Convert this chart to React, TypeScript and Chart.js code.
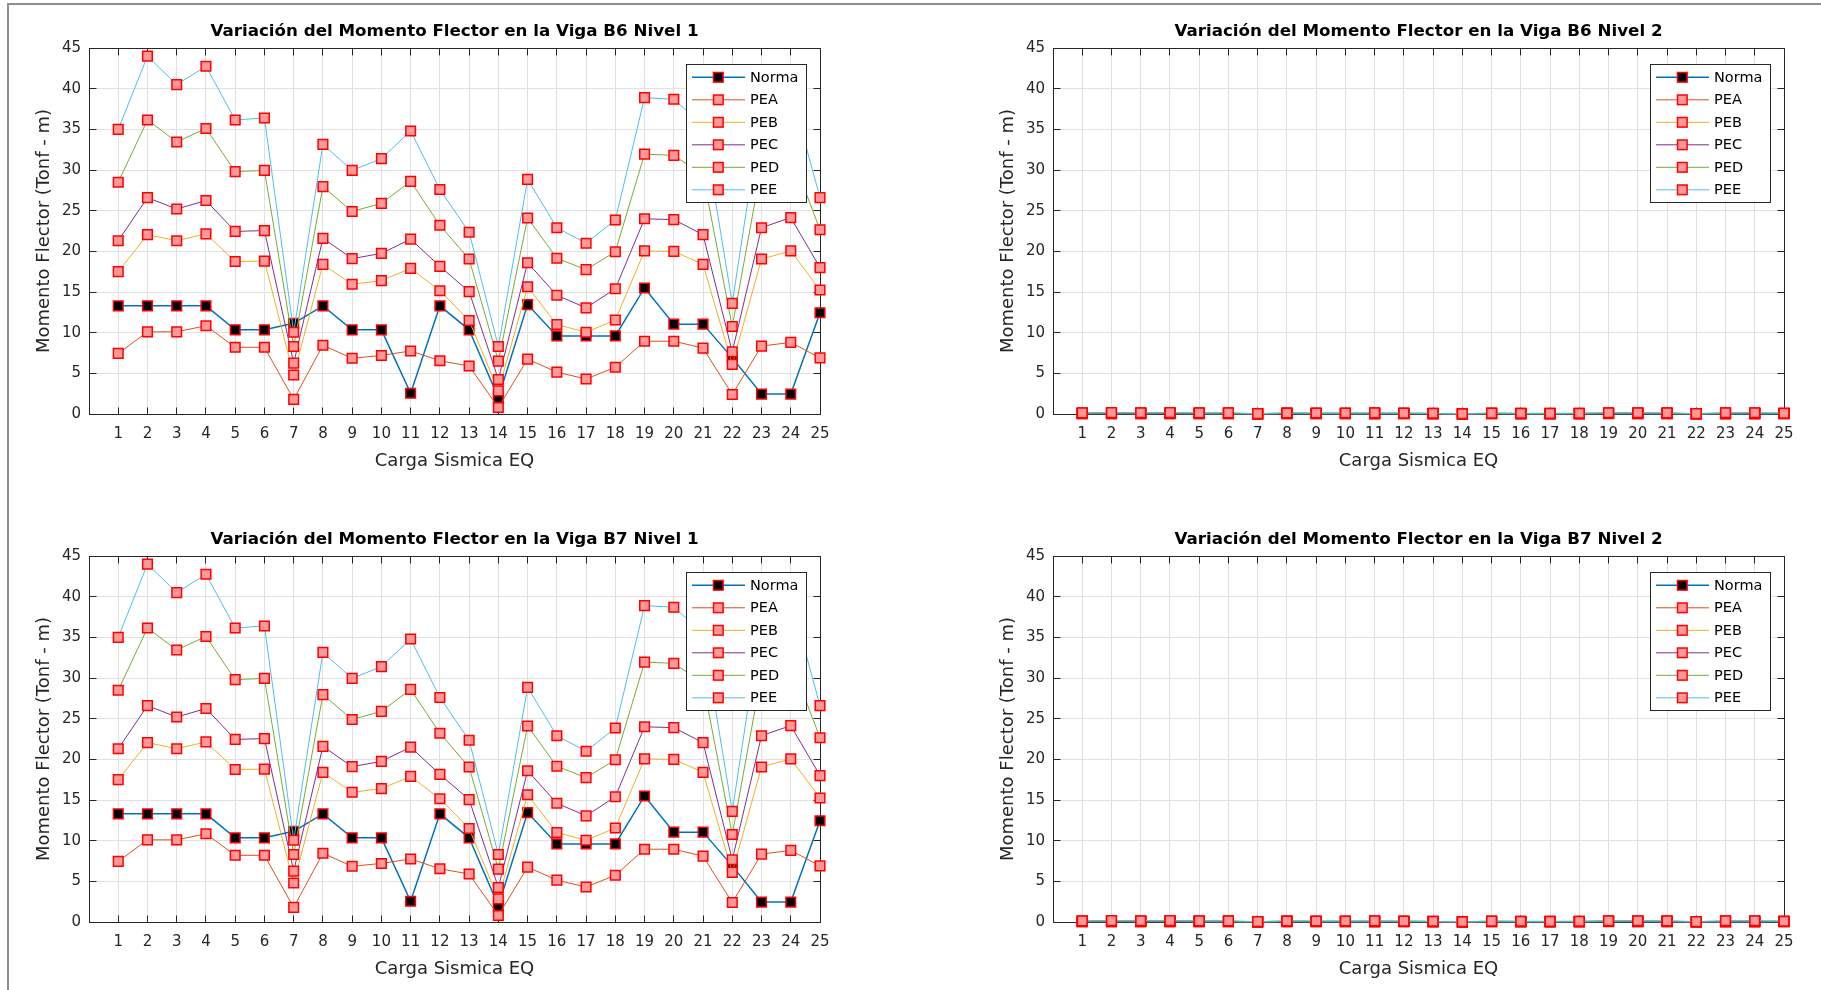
import React, { useEffect, useRef } from 'react';
import { Chart, registerables } from 'chart.js';

Chart.register(...registerables);

// ---------- data ----------
const categories = [1, 2, 3, 4, 5, 6, 7, 8, 9, 10, 11, 12, 13, 14, 15, 16, 17, 18, 19, 20, 21, 22, 23, 24, 25];
const yTicks = [0, 5, 10, 15, 20, 25, 30, 35, 40, 45];
const seriesNames = ['Norma', 'PEA', 'PEB', 'PEC', 'PED', 'PEE'];
const lineColors = ['#0072BD', '#D95319', '#EDB120', '#7E2F8E', '#77AC30', '#4DBEEE'];

// Viga B6 / B7 - Nivel 1
const n1Norma = [13.3, 13.3, 13.3, 13.3, 10.35, 10.35, 11.15, 13.3, 10.35, 10.35, 2.55, 13.3, 10.35, 2.0, 13.45, 9.6, 9.6, 9.6, 15.5, 11.05, 11.05, 6.9, 2.45, 2.45, 12.45];
const n1Pea = [7.45, 10.1, 10.1, 10.85, 8.2, 8.2, 1.8, 8.45, 6.85, 7.2, 7.75, 6.55, 5.9, 0.8, 6.75, 5.15, 4.3, 5.75, 8.95, 8.95, 8.1, 2.4, 8.35, 8.8, 6.9];
const n1Peb = [17.5, 22.05, 21.3, 22.15, 18.75, 18.8, 4.8, 18.4, 15.95, 16.4, 17.9, 15.15, 11.5, 2.85, 15.65, 11.0, 10.05, 11.55, 20.05, 20.0, 18.4, 6.1, 19.05, 20.05, 15.25];
const n1Pec = [21.3, 26.6, 25.2, 26.25, 22.45, 22.55, 6.25, 21.6, 19.1, 19.75, 21.5, 18.15, 15.05, 4.25, 18.6, 14.6, 13.05, 15.4, 24.0, 23.9, 22.05, 7.65, 22.9, 24.15, 18.0];
const n1Ped = [28.5, 36.15, 33.45, 35.1, 29.8, 29.95, 8.3, 27.95, 24.9, 25.9, 28.6, 23.2, 19.05, 6.5, 24.1, 19.15, 17.75, 19.95, 31.95, 31.8, 29.4, 10.75, 30.5, 32.1, 22.65];
const n1Pee = [35.0, 44.0, 40.5, 42.75, 36.15, 36.4, 10.05, 33.15, 29.95, 31.4, 34.8, 27.6, 22.35, 8.3, 28.85, 22.9, 21.0, 23.85, 38.9, 38.7, 35.5, 13.6, 37.3, 39.8, 26.6];

// Viga B6 / B7 - Nivel 2 (all close to zero)
const n2Norma = [0.05, 0.05, 0.05, 0.05, 0.04, 0.04, 0.04, 0.05, 0.04, 0.04, 0.01, 0.05, 0.04, 0.01, 0.05, 0.04, 0.04, 0.04, 0.06, 0.04, 0.04, 0.03, 0.01, 0.01, 0.05];
const n2Pea = [0.03, 0.04, 0.04, 0.04, 0.03, 0.03, 0.01, 0.03, 0.03, 0.03, 0.03, 0.03, 0.02, 0.0, 0.03, 0.02, 0.02, 0.02, 0.04, 0.04, 0.03, 0.01, 0.03, 0.04, 0.03];
const n2Peb = [0.07, 0.09, 0.08, 0.09, 0.07, 0.07, 0.02, 0.07, 0.06, 0.06, 0.07, 0.06, 0.05, 0.01, 0.06, 0.04, 0.04, 0.05, 0.08, 0.08, 0.07, 0.02, 0.08, 0.08, 0.06];
const n2Pec = [0.08, 0.1, 0.1, 0.1, 0.09, 0.09, 0.02, 0.08, 0.07, 0.08, 0.08, 0.07, 0.06, 0.02, 0.07, 0.06, 0.05, 0.06, 0.09, 0.09, 0.09, 0.03, 0.09, 0.09, 0.07];
const n2Ped = [0.11, 0.14, 0.13, 0.14, 0.12, 0.12, 0.03, 0.11, 0.1, 0.1, 0.11, 0.09, 0.07, 0.03, 0.09, 0.07, 0.07, 0.08, 0.12, 0.12, 0.11, 0.04, 0.12, 0.12, 0.09];
const n2Pee = [0.14, 0.17, 0.16, 0.17, 0.14, 0.14, 0.04, 0.13, 0.12, 0.12, 0.14, 0.11, 0.09, 0.03, 0.11, 0.09, 0.08, 0.09, 0.15, 0.15, 0.14, 0.05, 0.15, 0.16, 0.1];

const nivel1 = [n1Norma, n1Pea, n1Peb, n1Pec, n1Ped, n1Pee];
const nivel2 = [n2Norma, n2Pea, n2Peb, n2Pec, n2Ped, n2Pee];

const FONT = "'DejaVu Sans', sans-serif";
const AXIS_COLOR = '#262626';

const alignPx = (p: number) => Math.round(p - 0.5) + 0.5;

// Axes title centred over the plot box (MATLAB style)
const axesTitlePlugin = {
  id: 'axesTitle',
  afterDraw(chart: any, _args: any, opts: any) {
    const { ctx, chartArea: a } = chart;
    ctx.save();
    ctx.fillStyle = '#000000';
    ctx.font = `bold 16.7px ${FONT}`;
    ctx.textAlign = 'center';
    ctx.textBaseline = 'middle';
    ctx.fillText(opts.text, (a.left + a.right) / 2, a.top - 16.5);
    ctx.restore();
  },
};

// Box on top/right + inward tick marks (MATLAB style)
const matlabAxesPlugin = {
  id: 'matlabAxes',
  beforeDatasetsDraw(chart: any) {
    const { ctx, chartArea: a, scales } = chart;
    const x = scales.x;
    const y = scales.y;
    const L = alignPx(a.left), R = alignPx(a.right), T = alignPx(a.top), B = alignPx(a.bottom);
    const tl = 7;
    ctx.save();
    ctx.strokeStyle = AXIS_COLOR;
    ctx.lineWidth = 1;
    ctx.beginPath();
    ctx.moveTo(L, T); ctx.lineTo(R, T); ctx.lineTo(R, B);
    for (const v of categories) {
      const px = alignPx(x.getPixelForValue(v));
      ctx.moveTo(px, B); ctx.lineTo(px, B - tl);
      ctx.moveTo(px, T); ctx.lineTo(px, T + tl);
    }
    for (const v of yTicks) {
      const py = alignPx(y.getPixelForValue(v));
      ctx.moveTo(L, py); ctx.lineTo(L + tl, py);
      ctx.moveTo(R, py); ctx.lineTo(R - tl, py);
    }
    ctx.stroke();
    ctx.restore();
  },
};

// MATLAB-like legend box in the north-east corner
const matlabLegendPlugin = {
  id: 'matlabLegend',
  afterDatasetsDraw(chart: any) {
    const { ctx, chartArea: a } = chart;
    const w = 120, h = 138;
    const right = a.right - 14;
    const left = right - w;
    const top = a.top + 16;
    ctx.save();
    ctx.fillStyle = '#ffffff';
    ctx.fillRect(left, top, w, h);
    ctx.strokeStyle = AXIS_COLOR;
    ctx.lineWidth = 1;
    ctx.strokeRect(alignPx(left), alignPx(top), w, h);
    chart.data.datasets.forEach((ds: any, i: number) => {
      const cy = top + 13.3 + i * 22.5;
      ctx.strokeStyle = ds.borderColor;
      ctx.lineWidth = ds.borderWidth;
      ctx.beginPath();
      ctx.moveTo(left + 6, cy);
      ctx.lineTo(left + 59, cy);
      ctx.stroke();
      const s = 9.6;
      const mx = left + 32.3;
      ctx.fillStyle = ds.pointBackgroundColor;
      ctx.fillRect(mx - s / 2, cy - s / 2, s, s);
      ctx.strokeStyle = ds.pointBorderColor;
      ctx.lineWidth = 1.5;
      ctx.strokeRect(mx - s / 2, cy - s / 2, s, s);
      ctx.fillStyle = '#000000';
      ctx.font = `14.5px ${FONT}`;
      ctx.textBaseline = 'middle';
      ctx.textAlign = 'left';
      ctx.fillText(ds.label, left + 64, cy + 0.5);
    });
    ctx.restore();
  },
};

function buildConfig(title: string, series: number[][], padLeft: number, padRight: number): any {
  return {
    type: 'line',
    data: {
      datasets: seriesNames.map((name, i) => ({
        label: name,
        data: categories.map((c, j) => ({ x: c, y: series[i][j] })),
        borderColor: lineColors[i],
        backgroundColor: lineColors[i],
        borderWidth: i === 0 ? 1.5 : 1,
        pointStyle: 'rect',
        pointRadius: 6.8,
        pointHoverRadius: 6.8,
        pointBorderWidth: 1.5,
        pointBorderColor: '#FF0000',
        pointBackgroundColor: i === 0 ? '#000000' : '#FF9999',
        tension: 0,
        fill: false,
        clip: false,
        order: seriesNames.length - i,
      })),
    },
    options: {
      animation: false,
      responsive: false,
      maintainAspectRatio: false,
      events: [],
      layout: { padding: { left: padLeft, right: padRight, top: 48, bottom: 0 } },
      plugins: {
        legend: { display: false },
        tooltip: { enabled: false },
        title: { display: false },
        axesTitle: { text: title },
      },
      scales: {
        x: {
          type: 'linear',
          min: 0,
          max: 25,
          afterBuildTicks: (axis: any) => {
            axis.ticks = categories.map((v) => ({ value: v }));
          },
          afterFit: (axis: any) => {
            axis.height = 81;
          },
          ticks: {
            autoSkip: false,
            maxRotation: 0,
            padding: 11,
            color: AXIS_COLOR,
            font: { family: FONT, size: 15, lineHeight: 1.2 },
            callback: (v: any) => String(v),
          },
          grid: { color: '#e1e1e1', lineWidth: 1, drawTicks: false },
          border: { display: true, color: AXIS_COLOR, width: 1 },
          title: {
            display: true,
            text: 'Carga Sismica EQ',
            color: AXIS_COLOR,
            font: { family: FONT, size: 18, lineHeight: 1.2 },
            padding: { top: 0, bottom: 23.2 },
          },
        },
        y: {
          type: 'linear',
          min: 0,
          max: 45,
          afterBuildTicks: (axis: any) => {
            axis.ticks = yTicks.map((v) => ({ value: v }));
          },
          afterFit: (axis: any) => {
            axis.width = 89;
          },
          ticks: {
            padding: 8,
            color: AXIS_COLOR,
            font: { family: FONT, size: 15, lineHeight: 1.2 },
            callback: (v: any) => String(v),
          },
          grid: { color: '#e1e1e1', lineWidth: 1, drawTicks: false },
          border: { display: true, color: AXIS_COLOR, width: 1 },
          title: {
            display: true,
            text: 'Momento Flector (Tonf - m)',
            color: AXIS_COLOR,
            font: { family: FONT, size: 18, lineHeight: 1.2 },
            padding: { top: 33.2, bottom: 0 },
          },
        },
      },
    },
    plugins: [matlabAxesPlugin, matlabLegendPlugin, axesTitlePlugin],
  };
}

type PanelProps = {
  title: string;
  series: number[][];
  left: number;
  top: number;
  width: number;
  height: number;
  padLeft: number;
  padRight: number;
};

function Panel({ title, series, left, top, width, height, padLeft, padRight }: PanelProps) {
  const ref = useRef<HTMLCanvasElement>(null);
  useEffect(() => {
    if (!ref.current) return;
    const chart = new Chart(ref.current, buildConfig(title, series, padLeft, padRight));
    return () => chart.destroy();
  }, [title, series, padLeft, padRight]);
  return (
    <canvas
      ref={ref}
      width={width}
      height={height}
      style={{ position: 'absolute', left, top, width, height, display: 'block' }}
    />
  );
}

export default function App() {
  return (
    <div
      style={{
        position: 'absolute',
        left: 0,
        top: 0,
        width: 1821,
        height: 990,
        overflow: 'hidden',
        background: '#ffffff',
      }}
    >
      <div style={{ position: 'absolute', left: 7, top: 3, width: 1814, height: 2, background: '#8e8e8e' }} />
      <div style={{ position: 'absolute', left: 7, top: 3, width: 2, height: 987, background: '#8e8e8e' }} />
      <Panel title="Variación del Momento Flector en la Viga B6 Nivel 1" series={nivel1} left={0} top={0} width={910} height={495} padLeft={0} padRight={90} />
      <Panel title="Variación del Momento Flector en la Viga B6 Nivel 2" series={nivel2} left={910} top={0} width={911} height={495} padLeft={54} padRight={37} />
      <Panel title="Variación del Momento Flector en la Viga B7 Nivel 1" series={nivel1} left={0} top={508} width={910} height={495} padLeft={0} padRight={90} />
      <Panel title="Variación del Momento Flector en la Viga B7 Nivel 2" series={nivel2} left={910} top={508} width={911} height={495} padLeft={54} padRight={37} />
    </div>
  );
}
